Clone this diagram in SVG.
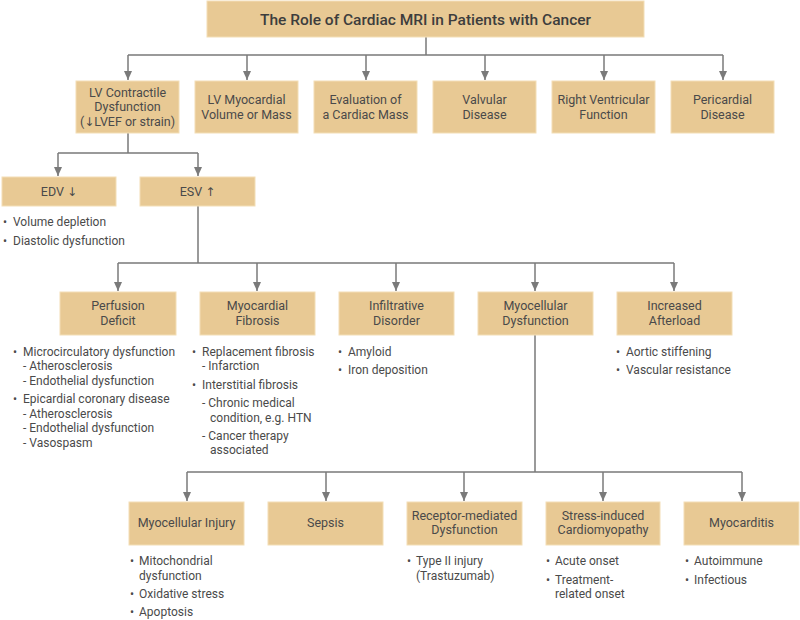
<svg xmlns="http://www.w3.org/2000/svg" width="800" height="620" viewBox="0 0 800 620">
<style>
.box{fill:#E8C994;stroke:#F3DEB6;stroke-width:1}
.t{font-family:Roboto,"Liberation Sans",sans-serif;font-size:12.5px;fill:#4a4a4a;text-anchor:middle}
.ti{font-family:Roboto,"Liberation Sans",sans-serif;font-size:15.5px;font-weight:500;fill:#3d3d3d;text-anchor:middle}
.b{font-family:Roboto,"Liberation Sans",sans-serif;font-size:12px;fill:#4a4a4a}
.ar{font-family:"DejaVu Sans",sans-serif;font-size:12px}
.ln{fill:none;stroke:#7a7a7a;stroke-width:1.5}
</style>
<defs>
<marker id="ah" markerUnits="userSpaceOnUse" markerWidth="10" markerHeight="10" viewBox="0 0 10 10" refX="9" refY="5" orient="auto">
<path d="M0,1 L9,5 L0,9 z" fill="#7a7a7a"/>
</marker>
</defs>
<rect width="800" height="620" fill="#ffffff"/>

<g id="connectors">
<path class="ln" d="M426,37 V55 M128,55 H723"/>
<path class="ln" marker-end="url(#ah)" d="M128,55 V80"/>
<path class="ln" marker-end="url(#ah)" d="M247,55 V80"/>
<path class="ln" marker-end="url(#ah)" d="M366,55 V80"/>
<path class="ln" marker-end="url(#ah)" d="M485,55 V80"/>
<path class="ln" marker-end="url(#ah)" d="M604,55 V80"/>
<path class="ln" marker-end="url(#ah)" d="M723,55 V80"/>
<path class="ln" d="M128,133 V153 M58,153 H198"/>
<path class="ln" marker-end="url(#ah)" d="M58,153 V176"/>
<path class="ln" marker-end="url(#ah)" d="M198,153 V176"/>
<path class="ln" d="M198,206 V263 M118,263 H674"/>
<path class="ln" marker-end="url(#ah)" d="M118,263 V291"/>
<path class="ln" marker-end="url(#ah)" d="M257,263 V291"/>
<path class="ln" marker-end="url(#ah)" d="M396,263 V291"/>
<path class="ln" marker-end="url(#ah)" d="M535,263 V291"/>
<path class="ln" marker-end="url(#ah)" d="M674,263 V291"/>
<path class="ln" d="M535,335 V472 M187,472 H742"/>
<path class="ln" marker-end="url(#ah)" d="M187,472 V501"/>
<path class="ln" marker-end="url(#ah)" d="M326,472 V501"/>
<path class="ln" marker-end="url(#ah)" d="M464,472 V501"/>
<path class="ln" marker-end="url(#ah)" d="M603,472 V501"/>
<path class="ln" marker-end="url(#ah)" d="M742,472 V501"/>
</g>

<g id="title">
<rect class="box" x="207" y="1" width="437" height="36"/>
<text class="ti" x="425.5" y="24.5">The Role of Cardiac MRI in Patients with Cancer</text>
</g>

<g id="lv-contractile">
<rect class="box" x="76" y="81" width="103" height="52"/>
<text class="t" x="127.5" y="96.5">LV Contractile</text>
<text class="t" x="127.5" y="111">Dysfunction</text>
<text class="t" x="127.5" y="125.5">(<tspan class="ar">↓</tspan>LVEF or strain)</text>
</g>
<g id="lv-mass">
<rect class="box" x="195" y="81" width="103" height="52"/>
<text class="t" x="246.5" y="104">LV Myocardial</text>
<text class="t" x="246.5" y="118.5">Volume or Mass</text>
</g>
<g id="cardiac-mass">
<rect class="box" x="314" y="81" width="103" height="52"/>
<text class="t" x="365.5" y="104">Evaluation of</text>
<text class="t" x="365.5" y="118.5">a Cardiac Mass</text>
</g>
<g id="valvular">
<rect class="box" x="433" y="81" width="103" height="52"/>
<text class="t" x="484.5" y="104">Valvular</text>
<text class="t" x="484.5" y="118.5">Disease</text>
</g>
<g id="rv-function">
<rect class="box" x="552" y="81" width="103" height="52"/>
<text class="t" x="603.5" y="104">Right Ventricular</text>
<text class="t" x="603.5" y="118.5">Function</text>
</g>
<g id="pericardial">
<rect class="box" x="671" y="81" width="103" height="52"/>
<text class="t" x="722.5" y="104">Pericardial</text>
<text class="t" x="722.5" y="118.5">Disease</text>
</g>

<g id="edv">
<rect class="box" x="2" y="177" width="114" height="29"/>
<text class="t" x="59" y="196">EDV <tspan class="ar">↓</tspan></text>
<text class="b" x="3" y="226">•</text><text class="b" x="13" y="226">Volume depletion</text>
<text class="b" x="3" y="245">•</text><text class="b" x="13" y="245">Diastolic dysfunction</text>
</g>
<g id="esv">
<rect class="box" x="140" y="177" width="115" height="29"/>
<text class="t" x="197.5" y="196">ESV <tspan class="ar">↑</tspan></text>
</g>

<g id="perfusion">
<rect class="box" x="60" y="292" width="116" height="43"/>
<text class="t" x="118" y="310">Perfusion</text>
<text class="t" x="118" y="325">Deficit</text>
<text class="b" x="13" y="356">•</text><text class="b" x="23" y="356">Microcirculatory dysfunction</text>
<text class="b" x="23" y="370">- Atherosclerosis</text>
<text class="b" x="23" y="385">- Endothelial dysfunction</text>
<text class="b" x="13" y="403">•</text><text class="b" x="23" y="403">Epicardial coronary disease</text>
<text class="b" x="23" y="418">- Atherosclerosis</text>
<text class="b" x="23" y="432">- Endothelial dysfunction</text>
<text class="b" x="23" y="447">- Vasospasm</text>
</g>
<g id="fibrosis">
<rect class="box" x="200" y="292" width="115" height="43"/>
<text class="t" x="257.5" y="310">Myocardial</text>
<text class="t" x="257.5" y="325">Fibrosis</text>
<text class="b" x="192" y="356">•</text><text class="b" x="202" y="356">Replacement fibrosis</text>
<text class="b" x="202" y="370">- Infarction</text>
<text class="b" x="192" y="389">•</text><text class="b" x="202" y="389">Interstitial fibrosis</text>
<text class="b" x="202" y="407">- Chronic medical</text>
<text class="b" x="210" y="422">condition, e.g. HTN</text>
<text class="b" x="202" y="440">- Cancer therapy</text>
<text class="b" x="210" y="454">associated</text>
</g>
<g id="infiltrative">
<rect class="box" x="339" y="292" width="115" height="43"/>
<text class="t" x="396.5" y="310">Infiltrative</text>
<text class="t" x="396.5" y="325">Disorder</text>
<text class="b" x="338" y="356">•</text><text class="b" x="348" y="356">Amyloid</text>
<text class="b" x="338" y="374">•</text><text class="b" x="348" y="374">Iron deposition</text>
</g>
<g id="myocellular-dysfunction">
<rect class="box" x="478" y="292" width="115" height="43"/>
<text class="t" x="535.5" y="310">Myocellular</text>
<text class="t" x="535.5" y="325">Dysfunction</text>
</g>
<g id="afterload">
<rect class="box" x="617" y="292" width="115" height="43"/>
<text class="t" x="674.5" y="310">Increased</text>
<text class="t" x="674.5" y="325">Afterload</text>
<text class="b" x="616" y="356">•</text><text class="b" x="626" y="356">Aortic stiffening</text>
<text class="b" x="616" y="374">•</text><text class="b" x="626" y="374">Vascular resistance</text>
</g>

<g id="myocellular-injury">
<rect class="box" x="129" y="502" width="115" height="43"/>
<text class="t" x="186.5" y="527">Myocellular Injury</text>
<text class="b" x="130" y="565">•</text><text class="b" x="139" y="565">Mitochondrial</text>
<text class="b" x="139" y="580">dysfunction</text>
<text class="b" x="130" y="598">•</text><text class="b" x="139" y="598">Oxidative stress</text>
<text class="b" x="130" y="616">•</text><text class="b" x="139" y="616">Apoptosis</text>
</g>
<g id="sepsis">
<rect class="box" x="268" y="502" width="115" height="43"/>
<text class="t" x="325.5" y="527">Sepsis</text>
</g>
<g id="receptor">
<rect class="box" x="407" y="502" width="115" height="43"/>
<text class="t" x="464.5" y="520">Receptor-mediated</text>
<text class="t" x="464.5" y="534">Dysfunction</text>
<text class="b" x="407" y="565">•</text><text class="b" x="416" y="565">Type II injury</text>
<text class="b" x="416" y="580">(Trastuzumab)</text>
</g>
<g id="stress">
<rect class="box" x="546" y="502" width="114" height="43"/>
<text class="t" x="603" y="520">Stress-induced</text>
<text class="t" x="603" y="534">Cardiomyopathy</text>
<text class="b" x="546" y="565">•</text><text class="b" x="555" y="565">Acute onset</text>
<text class="b" x="546" y="584">•</text><text class="b" x="555" y="584">Treatment-</text>
<text class="b" x="555" y="598">related onset</text>
</g>
<g id="myocarditis">
<rect class="box" x="684" y="502" width="115" height="43"/>
<text class="t" x="741.5" y="527">Myocarditis</text>
<text class="b" x="685" y="565">•</text><text class="b" x="694" y="565">Autoimmune</text>
<text class="b" x="685" y="584">•</text><text class="b" x="694" y="584">Infectious</text>
</g>
</svg>
